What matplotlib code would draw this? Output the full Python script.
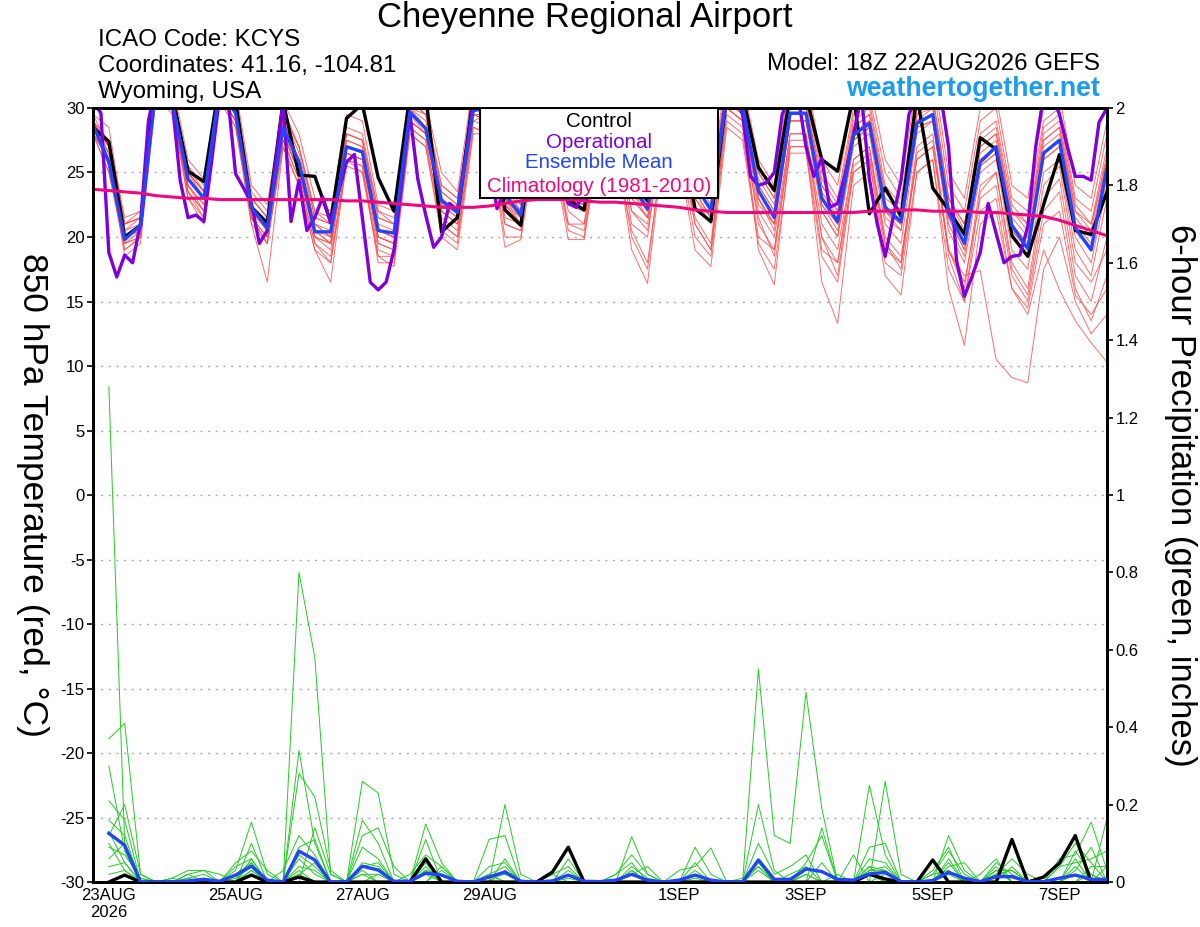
import matplotlib.pyplot as plt
import numpy as np
from matplotlib.patches import Rectangle
from matplotlib.ticker import FuncFormatter

plt.rcParams['font.family'] = ['Liberation Sans', 'DejaVu Sans']
plt.rcParams['axes.unicode_minus'] = False

# forecast hours from 18Z 22AUG2026
hours_t = np.arange(0, 385, 6)
hours_op = np.arange(0, 385, 3)
hours_p = np.arange(6, 385, 6)

tick_hours = [6, 54, 102, 150, 222, 270, 318, 366]
tick_labels = ['23AUG\n2026', '25AUG', '27AUG', '29AUG', '1SEP', '3SEP', '5SEP', '7SEP']

# 850 hPa temperature (C)
control_t = [28.5,
             27.4, 20.0, 20.9, 33, 31, 25.1, 24.3, 32, 30.5, 22.3, 21.1, 30.5, 24.8, 24.7, 21.2, 29.2,
             30.3, 24.6, 22.0, 31, 31, 20.4, 21.5, 31, 30.5, 22.1, 20.9, 30, 29, 22.9, 22.1, 30,
             29, 24.5, 22.8, 30, 29, 22.2, 21.2, 31, 31, 25.4, 23.6, 31, 31, 26.0, 25.1, 31,
             21.8, 23.8, 21.6, 31, 23.8, 22.1, 20.2, 27.7, 26.8, 20.1, 18.5, 22.5, 26.4, 20.5, 20.2, 23.5]

mean_t = [28.7,
          25.8, 19.8, 20.9, 32, 30.5, 24.5, 23.0, 31.5, 29.6, 22.3, 20.7, 28.5, 25.8, 20.4, 20.4, 27.0,
          26.6, 20.5, 20.3, 29.7, 28.4, 22.8, 21.9, 29.8, 30, 23.3, 21.7, 29.5, 28.5, 23.2, 22.8, 29.5,
          28.5, 24.0, 22.2, 29, 28.5, 24.0, 22.1, 31, 30.2, 23.6, 21.5, 29.6, 29.6, 23.0, 21.2, 27.9,
          28.8, 22.3, 21.2, 28.8, 29.5, 21.9, 19.5, 25.8, 27.0, 20.9, 19.1, 26.5, 27.5, 20.7, 19.0, 25.4]

clim_t = [23.7,
          23.6, 23.5, 23.4, 23.2, 23.1, 23.0, 23.0, 22.9, 22.9, 22.9, 22.9, 22.9, 22.9, 22.9, 22.9, 22.8,
          22.8, 22.7, 22.6, 22.5, 22.4, 22.3, 22.3, 22.3, 22.4, 22.6, 22.8, 22.9, 22.9, 22.9, 22.8, 22.7,
          22.7, 22.6, 22.5, 22.4, 22.3, 22.1, 22.0, 21.9, 21.9, 21.9, 21.9, 21.9, 21.9, 21.9, 21.9, 21.9,
          22.0, 22.0, 22.1, 22.1, 22.0, 22.0, 22.0, 21.9, 21.9, 21.8, 21.7, 21.6, 21.3, 20.9, 20.5, 20.1]

# operational run, 3-hourly
oper_t = [30.5, 29.6, 18.8, 16.9, 18.6, 18.0, 21.1, 29,
          32, 32, 30.5, 24.4, 21.5, 21.7, 21.2, 26,
          31, 31, 24.9, 23.8, 22.6, 19.5, 20.5, 25.5,
          30.5, 21.2, 24.4, 20.5, 21.5, 23.1, 21.1, 23.5,
          25.8, 26.4, 21.5, 16.5, 15.9, 16.5, 19.0, 24.3,
          29.6, 24.5, 21.7, 19.2, 20.0, 22.6, 22.1, 26,
          30.5, 31, 26, 22.2, 23.5, 27, 30, 31,
          31, 29, 26, 24, 22.6, 22.3, 23.5, 27,
          30, 31, 30, 27, 25, 24, 23.5, 25,
          29, 31, 31, 28, 25, 24, 23.5, 27,
          31, 31, 29.5, 24.7, 24.0, 24.2, 25.0, 29.5,
          31, 31, 27, 24.7, 26.1, 22.3, 22.6, 25,
          27.9, 31, 24.5, 21.0, 18.5, 21.5, 24.4, 29.5,
          31, 32, 31, 31, 27, 18.2, 15.4, 17.0,
          18.8, 22.6, 20.3, 18.0, 18.5, 18.6, 20.8, 27,
          31, 31, 29.5, 27, 24.7, 24.7, 24.4, 28.9,
          30]

members_t = [
    [28.5, 27.0, 20.5, 21.5, 32, 31, 25, 23.5, 32, 30, 22.5, 21, 29, 26, 21, 20.5, 27.5, 27, 21, 20.5,
     30, 29, 23, 22, 30.5, 30, 23.5, 22, 30, 29, 23.5, 23, 30, 29, 24, 22.5, 29.5, 29, 24.5, 22.5,
     31.5, 30.5, 24, 22, 30, 30, 23.5, 21.5, 28.5, 29.5, 23, 22, 29.5, 30, 22.5, 20, 27, 28, 21.5, 20,
     27.5, 28.5, 21.5, 20, 26],
    [29, 26, 19.5, 20.5, 31.5, 30, 24, 22.5, 31, 29, 21.5, 20, 28, 25, 20, 19.5, 26.5, 26, 20, 19.5,
     29, 28, 22, 21, 29, 29.5, 22.5, 21, 29, 28, 22.5, 22, 29, 28, 23, 21.5, 28.5, 28, 23, 21,
     30, 29, 22, 20, 28, 28, 21, 19, 26, 27, 20, 18.5, 26, 27, 19, 16.5, 23, 24, 17, 15,
     22, 23.5, 16, 13.5, 17],
    [29.5, 28.5, 21, 22, 33, 32, 26, 24.5, 33, 31.5, 24, 22.5, 30.5, 28, 23, 22, 29.5, 29, 22.5, 22,
     31.5, 30.5, 25, 23.5, 32, 31.5, 25, 23.5, 31.5, 30.5, 25, 24, 31.5, 30.5, 26, 24, 31.5, 30.5, 26, 24,
     33, 32, 26, 24, 32.5, 32.5, 26, 24, 31, 32, 26, 24, 32, 33, 25, 23, 30, 31, 24, 23,
     30, 31, 24, 23, 29],
    [28, 25, 19, 20, 31, 30, 23.5, 22, 31, 29, 22, 20.5, 28, 25.5, 20.5, 19.5, 26.5, 26, 19.5, 19,
     29.5, 28, 22, 21, 29.5, 29.5, 23, 21, 29, 28, 23, 22, 29, 28, 22, 21, 28.5, 28, 23, 21.5,
     31, 30, 23, 20.5, 29, 29, 22, 20, 27, 28, 21, 19.5, 28, 29, 20.5, 18, 25, 26, 19, 17.5,
     25, 26, 19, 17, 23],
    [28.5, 26, 20, 20.5, 32, 30.5, 24, 22, 31.5, 29.5, 21, 16.5, 27, 24, 19, 16.5, 26, 25.5, 18, 18,
     28, 27, 20.5, 19.5, 28.5, 28, 20, 20, 28, 27, 20.5, 20, 28, 27, 19, 16.4, 27, 26.5, 20, 18.5,
     29, 28, 20, 19, 27, 27, 19, 18, 25, 26, 19, 18, 26, 27, 19, 17, 17.4, 10.5, 9.1, 8.7,
     17.5, 20, 15, 12.5, 14],
    [29, 27, 20, 21, 32.5, 31, 24.5, 23, 32, 30, 22, 20.5, 28.5, 25.5, 20, 19, 27, 26.5, 19.5, 19,
     29.5, 28.5, 21.5, 20.5, 29.5, 29, 21.5, 21, 29, 28.5, 22, 21, 29, 28, 21, 20, 28.5, 28, 21, 19,
     30, 29, 19, 16.3, 27, 27, 16.5, 13.3, 24, 25, 17, 15.5, 25, 26, 16, 11.6, 21, 22, 16, 14,
     19, 15.9, 13.5, 11.8, 10.3],
    [28, 26.5, 21, 21.5, 31.5, 30.5, 25.5, 24, 32, 30.5, 23, 21.5, 29.5, 27, 22, 21, 28, 27.5, 22, 21,
     30, 29.5, 23.5, 22.5, 30, 30.5, 24, 22.5, 30.5, 29.5, 24, 23, 30.5, 29.5, 25, 23, 30, 29.5, 25, 23,
     32, 31, 25, 23, 31, 31, 24.5, 22.5, 29.5, 30.5, 24, 22.5, 30, 31, 23, 21, 28, 29, 22.5, 21,
     28.5, 29.5, 22.5, 21, 27],
    [29, 25.5, 19, 20, 32, 30, 23, 21.5, 31, 28.5, 21.5, 19.5, 27.5, 24.5, 19.5, 18.5, 26, 25.5, 19, 18.5,
     28.5, 27.5, 21, 20, 29, 28.5, 21, 20.5, 28.5, 27.5, 21, 21, 28.5, 27.5, 22, 20.5, 28, 27.5, 21.5, 19.5,
     30, 29, 21, 19, 28, 28, 20, 18, 26, 27, 19.5, 18, 27, 28, 19, 16, 24, 25, 17.5, 15.5,
     23, 24.5, 17, 15, 20],
    [28.5, 27.5, 21.5, 22, 33, 31.5, 25.5, 23.5, 32.5, 31, 23.5, 22, 30, 27, 22, 21.5, 28.5, 28, 22, 21.5,
     31, 30, 24, 23, 31, 31, 24.5, 23, 31, 30, 24.5, 23.5, 31, 30, 25, 23.5, 30.5, 30, 25.5, 23.5,
     32.5, 31.5, 25, 23, 31.5, 31.5, 25, 23, 30, 31, 25, 23, 31, 32, 24, 22, 29, 30, 23, 22,
     29, 30, 23, 22, 28],
    [28, 26, 18.5, 19.5, 31, 29.5, 23, 21, 30.5, 28.5, 21, 19.5, 27, 24, 19, 18, 25.5, 25, 18.5, 17.7,
     28, 27, 20, 19, 28, 28, 19.2, 19.8, 27.5, 26.5, 19.8, 19.8, 27.5, 26.5, 20.5, 18, 27, 26, 19, 17.7,
     28.5, 27.5, 19.5, 17.5, 26.5, 26.5, 18.5, 16.5, 25, 26, 18, 17, 25, 26, 17.5, 15, 22, 23, 16, 14.5,
     21, 22, 15.5, 14, 16],
    [29, 27, 20.5, 21, 32, 31, 24.5, 23, 31.5, 30, 22, 21, 28.5, 26, 21, 20, 27, 26.5, 20.5, 20,
     29.5, 28.5, 22.5, 22, 30, 30, 23, 22, 29.5, 28.5, 23, 22.5, 29.5, 28.5, 23.5, 22, 29, 28.5, 24, 22,
     31, 30, 23, 21, 29.5, 29.5, 22.5, 21, 28, 29, 22, 21, 29, 29.5, 21.5, 19, 26, 27, 20.5, 19,
     26.5, 27.5, 20.5, 19, 25],
    [28.5, 26.5, 20, 21, 32.5, 31, 25, 23, 32, 30, 22.5, 21, 29, 26, 21, 20, 27.5, 27, 20.5, 20,
     30, 28.5, 22.5, 21.5, 30, 30, 23, 21.5, 29.5, 28.5, 23, 22.5, 29.5, 28.5, 24, 22, 29, 28.5, 24, 22,
     31, 30, 23.5, 21.5, 29.5, 29.5, 23, 21, 28, 29, 22.5, 21, 29, 30, 22, 19.5, 26.5, 27.5, 21, 19.5,
     27, 28, 21, 19.5, 25.5],
    [29.5, 27, 21, 21.5, 33, 31.5, 25, 23.5, 32.5, 30.5, 23, 21.5, 29.5, 26.5, 21.5, 21, 28, 27.5, 21.5, 21,
     30.5, 29.5, 23.5, 22.5, 31, 30.5, 24, 22, 30.5, 29.5, 24, 23, 30.5, 29.5, 24.5, 23, 30, 29.5, 25, 23,
     31.5, 31, 24.5, 22.5, 30.5, 30.5, 24, 22, 29, 30, 23.5, 22, 30, 31, 23, 20.5, 27.5, 28.5, 22, 20.5,
     28, 29, 22, 20.5, 26.5],
    [28, 25, 19.5, 20, 31.5, 30, 23.5, 22, 31, 29, 21.5, 20, 28, 25, 20.5, 19.5, 26.5, 26, 20, 19.5,
     29, 28, 22, 21, 29.5, 29, 22.5, 21, 29, 28, 22.5, 22, 29, 28, 23.5, 21.5, 28.5, 28, 23.5, 21.5,
     30.5, 29.5, 22.5, 21, 29, 29, 22, 20, 27.5, 28.5, 21.5, 20.5, 28.5, 29, 21, 18.5, 25.5, 26.5, 20, 18.5,
     26, 27, 20, 18, 24],
    [29, 26.5, 20, 21, 32, 30.5, 24.5, 23, 31.5, 29.5, 22, 20.5, 28.5, 25.5, 20.5, 20, 27, 26.5, 20.5, 20,
     29.5, 28.5, 23, 22, 30, 29.5, 23, 21.5, 29.5, 28.5, 23, 22.5, 29.5, 28.5, 24, 22, 29, 28.5, 24, 22,
     31, 30, 23.5, 21.5, 29.5, 29.5, 23, 21, 28, 29, 22, 21, 29, 29.5, 22, 19.5, 26, 27, 21, 19,
     26.5, 27.5, 20.5, 19, 25],
    [28.5, 26, 19.5, 20, 31.5, 30, 23.5, 21.5, 31, 29, 21.5, 19.5, 27.5, 24.5, 19.5, 18, 26, 25, 18.5, 18.5,
     28.5, 27.5, 21, 20, 28.5, 28, 21, 20.5, 28, 27, 21, 20.5, 28, 27, 20, 17.5, 27.5, 27, 21, 19,
     29.5, 28.5, 21.5, 18.5, 27.5, 27.5, 20, 17, 25.5, 26.5, 19.5, 17.5, 26.5, 27.5, 18.5, 15, 23.5, 25, 18, 16,
     24, 25.5, 18, 16.5, 19],
    [29, 27.5, 21, 21.5, 32.5, 31.5, 25, 23.5, 32, 30.5, 23, 21.5, 29.5, 27, 21.5, 21, 28, 27.5, 21.5, 21,
     30.5, 29.5, 24, 23, 30.5, 30.5, 24, 22.5, 30, 29, 24, 23, 30, 29, 24.5, 23, 29.5, 29, 25, 23,
     31.5, 30.5, 24, 22, 30.5, 30.5, 24, 22, 28.5, 29.5, 23.5, 22, 29.5, 30.5, 23, 21, 27, 28, 22, 21,
     27.5, 28.5, 22, 21, 26],
    [28, 26, 20, 20.5, 31.5, 30, 24, 22.5, 31, 29, 22, 20.5, 28, 25, 20, 19.5, 26.5, 26, 20, 19.5,
     29, 28, 22.5, 21.5, 29.5, 29, 22.5, 21.5, 29, 28, 22.5, 22, 29, 28, 23, 21.5, 28.5, 28, 23.5, 21.5,
     30.5, 29.5, 23, 21, 29, 29, 22.5, 20.5, 27.5, 28.5, 22, 20.5, 28.5, 29, 21.5, 19, 25.5, 26.5, 20.5, 19,
     26, 27, 20.5, 19, 24.5],
]

# 6-hour precipitation (inches)
control_p = [0, 0.018, 0, 0, 0, 0, 0, 0,
             0, 0.018, 0, 0, 0.013, 0, 0, 0,
             0, 0, 0, 0, 0.06, 0, 0, 0,
             0, 0, 0, 0, 0.026, 0.09, 0, 0,
             0, 0, 0, 0, 0, 0, 0, 0,
             0, 0, 0, 0, 0, 0, 0, 0,
             0.02, 0.008, 0, 0, 0.057, 0, 0, 0,
             0, 0.11, 0, 0.013, 0.049, 0.12, 0, 0]

mean_p = [0.126, 0.095, 0, 0, 0, 0.003, 0.007, 0.002,
          0.018, 0.041, 0.005, 0, 0.080, 0.057, 0, 0,
          0.041, 0.031, 0.002, 0.002, 0.023, 0.018, 0.002, 0,
          0.013, 0.026, 0.002, 0, 0.003, 0.018, 0.002, 0.001,
          0.005, 0.02, 0.005, 0, 0.005, 0.018, 0.005, 0,
          0, 0.057, 0.007, 0.007, 0.034, 0.027, 0.007, 0.005,
          0.021, 0.025, 0.001, 0, 0.004, 0.025, 0.01, 0.001,
          0.014, 0.014, 0.001, 0.001, 0.01, 0.018, 0.007, 0.007]

# members: {6-h step: amount}, dry elsewhere
members_p = [
    {1: 1.28, 2: 0.10, 3: 0.01, 9: 0.02, 10: 0.04, 13: 0.03, 21: 0.03, 30: 0.02, 38: 0.02, 50: 0.02,
     54: 0.03, 62: 0.04},
    {1: 0.37, 2: 0.41, 3: 0.02, 10: 0.06, 13: 0.80, 14: 0.58, 15: 0.02, 22: 0.03, 34: 0.03, 49: 0.02,
     57: 0.04, 63: 0.02},
    {1: 0.21, 2: 0.16, 9: 0.03, 10: 0.155, 11: 0.02, 13: 0.34, 14: 0.10, 17: 0.26, 18: 0.23, 19: 0.02,
     25: 0.02, 42: 0.55, 43: 0.12, 44: 0.10, 45: 0.49, 46: 0.19, 54: 0.05},
    {1: 0.16, 2: 0.12, 6: 0.02, 7: 0.03, 8: 0.02, 10: 0.10, 13: 0.28, 14: 0.22, 15: 0.03, 17: 0.16,
     18: 0.10, 21: 0.15, 22: 0.05, 26: 0.20, 27: 0.02, 34: 0.117, 35: 0.02, 46: 0.14, 49: 0.25, 50: 0.07,
     57: 0.03},
    {1: 0.30, 2: 0.08, 5: 0.01, 6: 0.03, 7: 0.03, 9: 0.05, 10: 0.08, 11: 0.03, 14: 0.14, 15: 0.02,
     17: 0.12, 18: 0.14, 19: 0.04, 21: 0.11, 25: 0.11, 26: 0.12, 30: 0.06, 38: 0.09, 39: 0.02, 42: 0.20,
     43: 0.03, 48: 0.07, 50: 0.26, 51: 0.02, 58: 0.04, 62: 0.06, 64: 0.165},
    {1: 0.13, 2: 0.05, 6: 0.01, 7: 0.02, 10: 0.05, 12: 0.03, 13: 0.12, 14: 0.07, 17: 0.09, 18: 0.06,
     20: 0.02, 21: 0.07, 22: 0.04, 26: 0.06, 29: 0.02, 30: 0.04, 33: 0.02, 34: 0.07, 35: 0.02, 37: 0.03,
     38: 0.04, 39: 0.088, 45: 0.05, 46: 0.12, 49: 0.09, 50: 0.10, 54: 0.12, 55: 0.03, 61: 0.06, 62: 0.07,
     63: 0.155, 64: 0.03},
    {1: 0.09, 2: 0.07, 3: 0.01, 6: 0.02, 9: 0.04, 10: 0.06, 13: 0.07, 14: 0.04, 17: 0.05, 18: 0.04,
     21: 0.05, 25: 0.04, 26: 0.05, 33: 0.02, 34: 0.05, 38: 0.05, 42: 0.10, 43: 0.02, 44: 0.04, 45: 0.07,
     49: 0.06, 50: 0.05, 53: 0.02, 54: 0.08, 55: 0.02, 62: 0.03, 63: 0.09},
    {1: 0.06, 2: 0.10, 7: 0.01, 9: 0.02, 10: 0.05, 13: 0.04, 14: 0.03, 17: 0.04, 18: 0.05, 21: 0.03,
     22: 0.02, 25: 0.02, 26: 0.04, 30: 0.03, 34: 0.04, 35: 0.01, 38: 0.02, 42: 0.06, 45: 0.03, 46: 0.03,
     49: 0.04, 54: 0.06, 57: 0.02, 58: 0.03, 61: 0.04, 62: 0.10, 63: 0.05},
    {1: 0.04, 2: 0.05, 6: 0.01, 10: 0.03, 13: 0.02, 17: 0.03, 22: 0.04, 26: 0.03, 30: 0.01, 34: 0.02,
     35: 0.04, 38: 0.02, 41: 0.01, 42: 0.04, 45: 0.02, 49: 0.03, 50: 0.04, 54: 0.04, 55: 0.05, 57: 0.02,
     58: 0.06, 59: 0.02, 62: 0.02, 64: 0.04},
    {1: 0.02, 2: 0.03, 5: 0.01, 10: 0.02, 13: 0.06, 14: 0.02, 17: 0.02, 18: 0.02, 21: 0.02, 25: 0.01,
     26: 0.02, 34: 0.02, 38: 0.03, 42: 0.03, 45: 0.02, 47: 0.02, 49: 0.02, 53: 0.02, 54: 0.03, 57: 0.03,
     58: 0.03, 63: 0.04, 64: 0.04},
    {1: 0.10, 2: 0.03, 9: 0.01, 10: 0.04, 13: 0.02, 14: 0.05, 18: 0.02, 25: 0.02, 29: 0.02, 34: 0.02,
     42: 0.05, 44: 0.02, 45: 0.04, 49: 0.03, 50: 0.03, 53: 0.03, 54: 0.09, 57: 0.05, 58: 0.02, 61: 0.04,
     62: 0.05, 63: 0.06, 64: 0.08},
    {1: 0.12, 2: 0.20, 3: 0.02, 10: 0.03, 13: 0.09, 14: 0.11, 17: 0.02, 21: 0.04, 26: 0.03, 34: 0.03,
     38: 0.01, 42: 0.04, 46: 0.05, 49: 0.04, 50: 0.03, 54: 0.02, 56: 0.02, 57: 0.06, 62: 0.08, 63: 0.02},
]

fig = plt.figure(figsize=(12, 9.27), dpi=100)
ax = fig.add_axes([0.0775, 0.0485, 0.845, 0.835])
ax2 = ax.twinx()

for m in members_t:
    ax.plot(hours_t, m, color='#ff4a4a', lw=0.7, alpha=0.8, zorder=2)
ax.plot(hours_t, control_t, color='black', lw=2.4, zorder=4)
ax.plot(hours_op, oper_t, color='#8000dd', lw=2.4, zorder=5)
ax.plot(hours_t, mean_t, color='#2244ff', lw=2.4, zorder=6)
ax.plot(hours_t, clim_t, color='#f0087f', lw=2.2, zorder=7)

for d in members_p:
    p = np.zeros(len(hours_p))
    for k, v in d.items():
        p[k - 1] = v
    ax2.plot(hours_p, p, color='#22cc22', lw=0.7, zorder=2)
ax2.plot(hours_p, control_p, color='black', lw=2.4, zorder=4)
ax2.plot(hours_p, mean_p, color='#2244ff', lw=2.4, zorder=5)

ax.set_xlim(0, 384)
ax.set_ylim(-30, 30)
ax.set_yticks(range(-30, 31, 5))
ax.grid(axis='y', color='#aaaaaa', ls=(0, (1.5, 4)), lw=1)
ax.set_axisbelow(True)
ax.set_xticks(tick_hours, tick_labels)
ax.tick_params(axis='x', length=0, labelsize=12, pad=4)
ax.tick_params(axis='y', labelsize=12, length=4, width=1.2, pad=2)

ax2.set_ylim(0, 2)
ax2.set_yticks(np.arange(0, 2.01, 0.2))
ax2.yaxis.set_major_formatter(FuncFormatter(lambda v, pos: '%g' % round(v, 1)))
ax2.tick_params(axis='y', labelsize=12, length=4, width=1.2, pad=2)

for a in (ax, ax2):
    for s in a.spines.values():
        s.set_linewidth(2)

# legend box
ax2.add_patch(Rectangle((0.3817, 0.8837), 0.2347, 0.1163, transform=ax2.transAxes,
                        facecolor='white', edgecolor='black', lw=1.5, zorder=20))
leg = [('Control', 'black', 0.983), ('Operational', '#8000dd', 0.956),
       ('Ensemble Mean', '#2244ff', 0.929), ('Climatology (1981-2010)', '#f0087f', 0.899)]
for txt, c, y in leg:
    ax2.text(0.499, y, txt, color=c, ha='center', va='center', fontsize=14.8,
             transform=ax2.transAxes, zorder=21)

fig.text(32 / 1200, 1 - 495 / 927, '850 hPa Temperature (red, \u00b0C)', rotation=270,
         ha='center', va='center', fontsize=25.5)
fig.text(1180 / 1200, 1 - 495 / 927, '6-hour Precipitation (green, inches)', rotation=270,
         ha='center', va='center', fontsize=25)

fig.text(0.4875, 0.9806, 'Cheyenne Regional Airport', ha='center', va='center', fontsize=25)
fig.text(0.0817, 0.9569, 'ICAO Code: KCYS', va='center', fontsize=17.4)
fig.text(0.0817, 0.9288, 'Coordinates: 41.16, -104.81', va='center', fontsize=17.4)
fig.text(0.0817, 0.9008, 'Wyoming, USA', va='center', fontsize=17.4)
fig.text(0.9167, 0.931, 'Model: 18Z 22AUG2026 GEFS', ha='right', va='center', fontsize=17.4)
fig.text(0.9167, 0.904, 'weathertogether.net', ha='right', va='center', fontsize=19.3,
         weight='bold', color='#1a9cf0')

fig.savefig('out.png', dpi=100)
